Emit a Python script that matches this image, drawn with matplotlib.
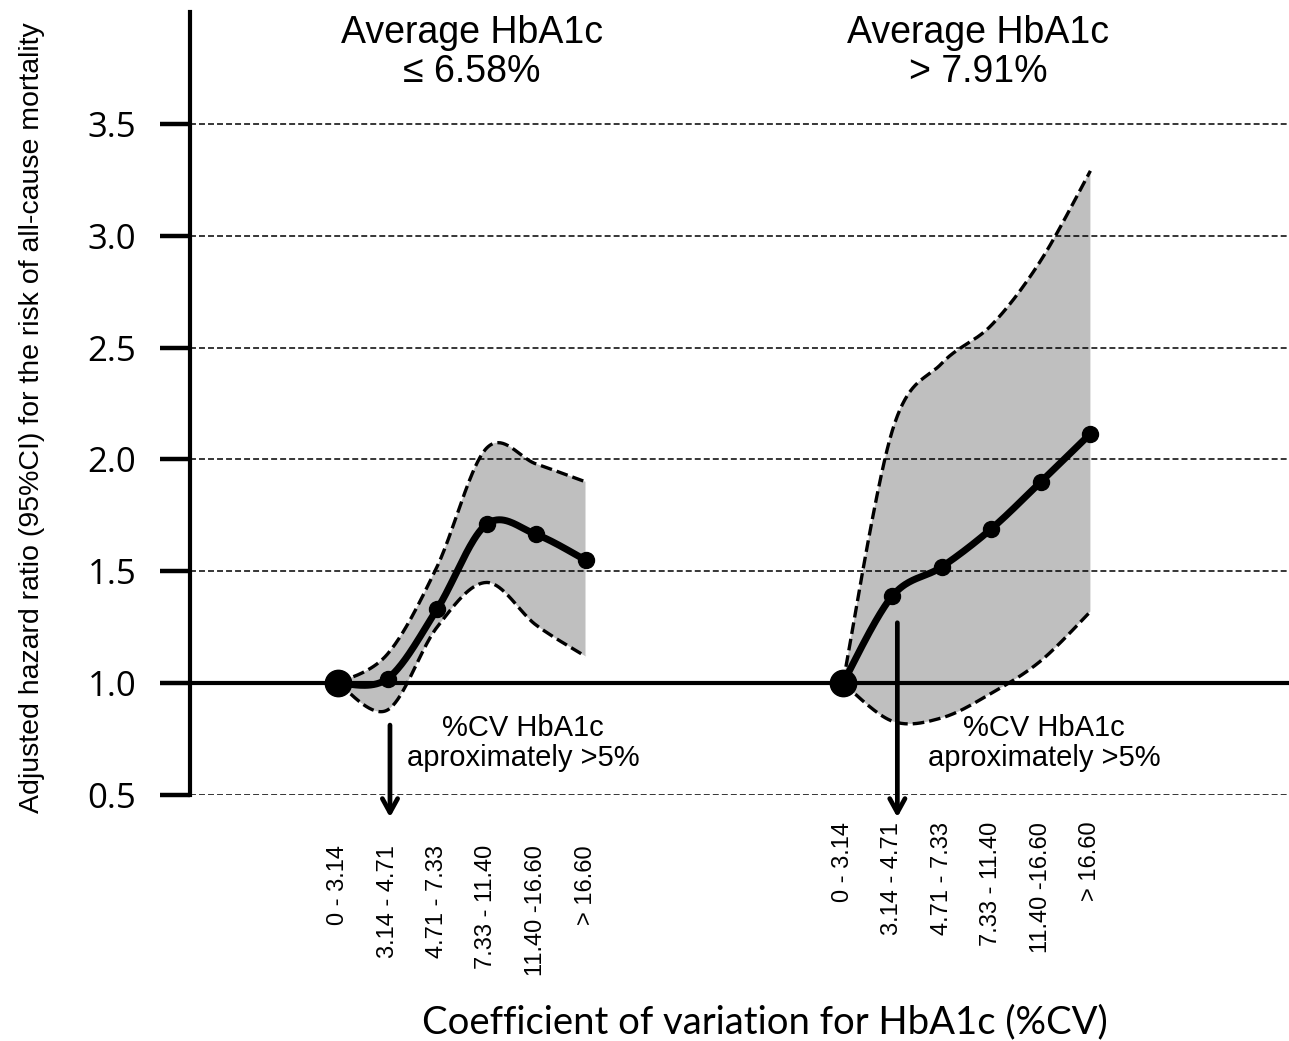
import numpy as np
import matplotlib
matplotlib.use("Agg")
import matplotlib.pyplot as plt


# categories (%CV HbA1c bands)
cv_bands = ["0 - 3.14", "3.14 - 4.71", "4.71 - 7.33", "7.33 - 11.40", "11.40 -16.60", "> 16.60"]
y_ticks = [0.5, 1.0, 1.5, 2.0, 2.5, 3.0, 3.5]

# average HbA1c <= 6.58%
hr_low = [1.0, 1.02, 1.33, 1.71, 1.665, 1.55]
ci_up_low = [1.0, 1.13, 1.52, 2.05, 1.98, 1.90]
ci_lo_low = [1.0, 0.88, 1.25, 1.45, 1.26, 1.12]

# average HbA1c > 7.91%
hr_high = [1.0, 1.39, 1.52, 1.69, 1.90, 2.115]
ci_up_high = [1.0, 2.13, 2.43, 2.60, 2.89, 3.29]
ci_lo_high = [1.0, 0.83, 0.845, 0.955, 1.10, 1.32]


def smooth(x, y, n=40):
    # catmull-rom curve through the points (like Excel's smoothed lines)
    pts = np.column_stack([x, y]).astype(float)
    p = np.vstack([pts[0], pts, pts[-1]])
    t = np.linspace(0, 1, n)[:, None]
    out = []
    for i in range(len(pts) - 1):
        p0, p1, p2, p3 = p[i], p[i + 1], p[i + 2], p[i + 3]
        seg = 0.5 * (2 * p1 + (-p0 + p2) * t
                     + (2 * p0 - 5 * p1 + 4 * p2 - p3) * t ** 2
                     + (-p0 + 3 * p1 - 3 * p2 + p3) * t ** 3)
        out.append(seg if i == 0 else seg[1:])
    return np.vstack(out)


W, H = 1289, 1041
fig = plt.figure(figsize=(W / 100, H / 100), dpi=100)
ax = fig.add_axes([190 / W, (H - 795) / H, (W - 190) / W, (795 - 12) / H])

px = 49.5  # pixels per category step
ax.set_xlim((190 - 338) / px, (W - 338) / px)
ax.set_ylim(0.5, 4.0)

x_left = np.arange(len(cv_bands)) * 1.0
x_right = x_left + 10.2

dash_ci = (0, (3.5, 1.5))
for xs, hr, up, lo in [(x_left, hr_low, ci_up_low, ci_lo_low),
                       (x_right, hr_high, ci_up_high, ci_lo_high)]:
    cu = smooth(xs, up)
    cl = smooth(xs, lo)
    poly = np.vstack([cu, cl[::-1]])
    ax.fill(poly[:, 0], poly[:, 1], color="#bfbfbf", lw=0, zorder=1)
    ax.plot(cu[:, 0], cu[:, 1], color="black", lw=2.4, ls=dash_ci, zorder=4)
    ax.plot(cl[:, 0], cl[:, 1], color="black", lw=2.4, ls=dash_ci, zorder=4)
    ch = smooth(xs, hr)
    ax.plot(ch[:, 0], ch[:, 1], color="black", lw=5, zorder=5, solid_capstyle="round")
    ax.plot(xs[1:], hr[1:], "o", color="black", ms=11.5, zorder=6)
    ax.plot(xs[:1], hr[:1], "o", color="black", ms=19, zorder=6, clip_on=False)

# grid lines
for v in y_ticks:
    if v == 1.0:
        ax.axhline(v, color="black", lw=3, zorder=3)
    else:
        ax.axhline(v, color="black", lw=1.1, ls=(0, (3.9, 2)), zorder=3)

ax.set_yticks(y_ticks)
ax.set_yticklabels([f"{v:.1f}" for v in y_ticks], fontfamily="Open Sans", fontsize=25)
ax.tick_params(axis="y", direction="out", length=21.6, width=3.2, pad=17)
ax.set_xticks([])
for s in ["top", "right", "bottom"]:
    ax.spines[s].set_visible(False)
ax.spines["left"].set_linewidth(3)

# category labels under each group
for xs, ytop in [(x_left, 0.277), (x_right, 0.38)]:
    for xv, lab in zip(xs, cv_bands):
        ax.text(xv, ytop, lab, rotation=90, ha="center", va="top",
                fontsize=17, fontfamily="Liberation Sans", clip_on=False)

# group titles
ax.text(2.71, 3.985, "Average HbA1c\n\u2264 6.58%", ha="center", va="top",
        fontsize=27, fontfamily="Liberation Sans", linespacing=1.1)
ax.text(12.93, 3.985, "Average HbA1c\n> 7.91%", ha="center", va="top",
        fontsize=27, fontfamily="Liberation Sans", linespacing=1.1)

# threshold notes and arrows
for xt, xa, ya in [(3.74, 1.05, 0.8125), (14.26, 11.3, 1.27)]:
    ax.text(xt, 0.86, "%CV HbA1c\naproximately >5%", ha="center", va="top",
            fontsize=21, fontfamily="Liberation Sans", linespacing=1.05, zorder=7)
    ax.annotate("", xy=(xa, 0.40), xytext=(xa, ya), annotation_clip=False,
                arrowprops=dict(arrowstyle="->,head_length=1.0,head_width=0.55",
                                color="black", lw=3.4, shrinkA=0, shrinkB=0))

fig.text(32 / W, 1 - 418 / H,
         "Adjusted hazard ratio (95%CI) for the risk of all-cause mortality",
         rotation=90, ha="center", va="center", fontsize=20.5,
         fontfamily="Liberation Sans")
fig.text(765 / W, 1 - 1022 / H, "Coefficient of variation for HbA1c (%CV)",
         ha="center", va="center", fontsize=27.5, fontfamily="Lato")

fig.savefig("out.png", dpi=100)
